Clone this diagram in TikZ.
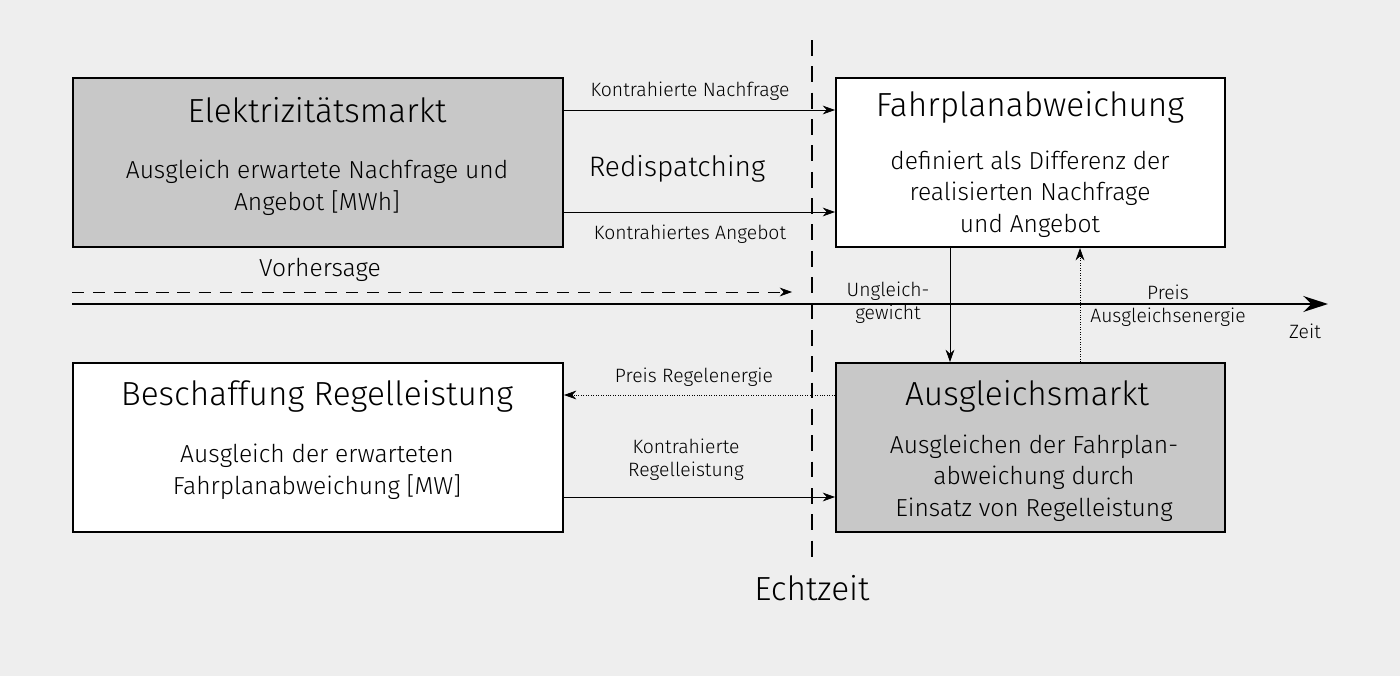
\documentclass[tikz,border=0pt]{standalone}
\usepackage{fontspec}
\setmainfont{Fira Sans}[UprightFont=* Light]
\usetikzlibrary{positioning,arrows.meta}
\definecolor{bg}{HTML}{EEEEEE}
\definecolor{boxgrey}{HTML}{C8C8C8}
\begin{document}
\begin{tikzpicture}[x=0.02cm,y=-0.02cm,>={Stealth[length=7pt,width=5pt]}]

\tikzset{box/.style={draw=black,line width=1.2pt,minimum width=9.8cm,minimum height=3.38cm,anchor=north west},
boxtitle/.style={font=\fontsize{19}{22}\selectfont},
boxtext/.style={font=\fontsize{14}{18}\selectfont,align=center},
small/.style={font=\fontsize{11}{13}\selectfont,align=center},
flow/.style={->,thin}}

% background
\fill[bg] (0,0) rectangle (1400,676);
\useasboundingbox (0,0) rectangle (1400,676);

% boxes
\node (em) [box,fill=boxgrey] at (72,77) {};
\node (fa) [box,fill=white,minimum width=7.78cm] at (835,77) {};
\node (br) [box,fill=white] at (72,362) {};
\node (am) [box,fill=boxgrey,minimum width=7.78cm] at (835,362) {};

% box texts
\node[boxtitle] at (317,110) {Elektrizitätsmarkt};
\node[boxtext] at (317,188) {Ausgleich erwartete Nachfrage und\\Angebot [MWh]};
\node[boxtitle] at (1030,107) {Fahrplanabweichung};
\node[boxtext] at (1030,194) {definiert als Differenz der\\realisierten Nachfrage\\und Angebot};
\node[boxtitle] at (317,396) {Beschaffung Regelleistung};
\node[boxtext] at (317,472) {Ausgleich der erwarteten\\Fahrplanabweichung [MW]};
\node[boxtitle] at (1027,396) {Ausgleichsmarkt};
\node[boxtext] at (1034,478) {Ausgleichen der Fahrplan-\\abweichung durch\\Einsatz von Regelleistung};

% real time
\coordinate (rtTop) at (812,40);
\coordinate (rtBot) at (812,560);
\draw[dashed,line width=1.2pt,dash pattern=on 9pt off 6pt] (rtTop) -- (rtBot);
\node[boxtitle] (echtzeit) at (812,588) {Echtzeit};

% time axis
\coordinate (axStart) at (72,304);
\coordinate (axEnd) at (1328,304);
\draw[->,line width=1.4pt,>={Stealth[length=14pt,width=9pt]}] (axStart) -- (axEnd);
\node[small] at (1305,331) {Zeit};
\coordinate (fcStart) at (72,292);
\coordinate (fcEnd) at (792,292);
\draw[->,dashed,dash pattern=on 7pt off 5pt] (fcStart) -- (fcEnd);
\node[boxtext] at (320,270) {Vorhersage};

% flows
\draw[flow] (em.east |- 0,110) -- (fa.west |- 0,110);
\node[small] at (690,91) {Kontrahierte Nachfrage};
\draw[flow] (em.east |- 0,212) -- (fa.west |- 0,212);
\node[small] at (690,234) {Kontrahiertes Angebot};
\node[boxtext,font=\fontsize{16}{18}\selectfont] at (677,169) {Redispatching};
\draw[flow] (fa.south -| 950,0) -- (am.north -| 950,0);
\node[small] at (888,303) {Ungleich-\\gewicht};
\draw[flow,densely dotted] (am.north -| 1080,0) -- (fa.south -| 1080,0);
\node[small] at (1168,306) {Preis\\Ausgleichsenergie};
\draw[flow,densely dotted] (am.west |- 0,395) -- (br.east |- 0,395);
\node[small] at (694,377) {Preis Regelenergie};
\draw[flow] (br.east |- 0,497) -- (am.west |- 0,497);
\node[small] at (686,460) {Kontrahierte\\Regelleistung};

\end{tikzpicture}
\end{document}
